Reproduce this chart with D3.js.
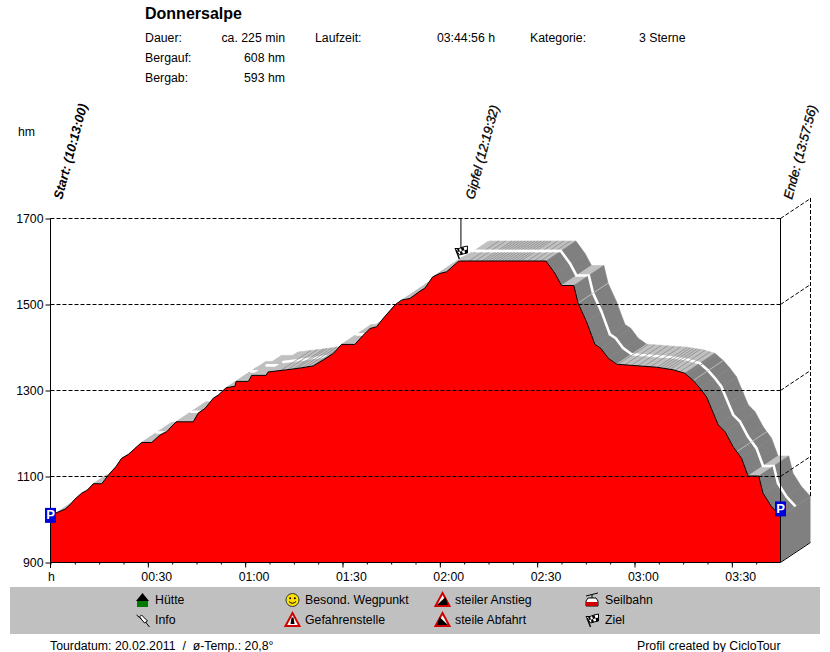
<!DOCTYPE html>
<html><head><meta charset="utf-8">
<script src="https://cdnjs.cloudflare.com/ajax/libs/d3/7.8.5/d3.min.js"></script>
<style>
html,body{margin:0;padding:0;background:#fff}
svg{display:block}
text{font-family:"Liberation Sans",Arial,sans-serif;font-size:12.3px;fill:#000}
</style></head><body>
<svg id="c" width="830" height="652"></svg>
<script>
// ---- data ----
const minutes = [0,1.7,4.5,6.0,7.5,9.6,11.2,13.2,15.8,17.8,20.2,21.9,24.0,26.0,28.1,31.2,33.7,35.8,38.7,44.0,45.5,47.6,50.2,51.7,54.1,56.9,57.2,61.0,62.0,66.4,67.1,72.8,76.9,81.0,84.1,87.2,89.7,93.8,96.2,98.5,100.5,102.6,106.2,108.2,110.8,113.9,115.4,117.8,120.0,122.1,125.7,126.5,152.7,155.5,157.5,161.3,162.6,165.2,167.8,169.6,171.9,174.5,179.6,186.8,191.9,195.5,198.1,200.2,202.2,204.3,205.8,207.9,210.4,213.0,215.0,218.3,219.6,222.2,225.0];
const elevation = [991,1014,1023,1033,1046,1060,1066,1082,1082,1102,1122,1141,1150,1164,1178,1178,1195,1203,1226,1226,1246,1257,1281,1288,1305,1309,1320,1320,1334,1334,1342,1347,1351,1356,1370,1385,1406,1406,1426,1443,1447,1467,1498,1509,1513,1530,1537,1563,1571,1575,1599,1600,1600,1571,1543,1543,1502,1459,1406,1397,1374,1360,1357,1353,1347,1339,1322,1304,1284,1246,1219,1203,1168,1141,1100,1100,1060,1029,1006];
const yTicks = [1700,1500,1300,1100,900];
const xMajorTicks = [30,60,90,120,150,180,210];
const xMajorLabels = ["00:30","01:00","01:30","02:00","02:30","03:00","03:30"];
const xMinorTicks = [0,7.5,15,22.5,30,37.5,45,52.5,60,67.5,75,82.5,90,97.5,105,112.5,120,127.5,135,142.5,150,157.5,165,172.5,180,187.5,195,202.5,210,217.5];
const darkStripes = [45,46.5,71,73,75,76,77.5,79,80.5,82,129,131,133,134,135,136,137,138,139,140,141,142,143,144,145,147,149,151,175,177,179,181,183,185,187,188,189,190,191,192.5,194,196];
const lightStripes = [162.6,198.1,211.5];
const summitMinute = 126.5, summitElevation = 1600;
const startLabel = "Start: (10:13:00)", summitLabel = "Gipfel (12:19:32)", endLabel = "Ende: (13:57:56)";
const title = "Donnersalpe";
const infoRows = [["Dauer:","ca. 225 min"],["Bergauf:","608 hm"],["Bergab:","593 hm"]];
const legendA = [["Hütte","hut"],["Info","pin"]];
const legendB = [["Besond. Wegpunkt","smile"],["Gefahrenstelle","danger"]];
const legendC = [["steiler Anstieg","up"],["steile Abfahrt","down"]];
const legendD = [["Seilbahn","cable"],["Ziel","flag"]];

// ---- scales ----
const svg = d3.select("#c");
const x = d3.scaleLinear().domain([0,225]).range([50.5,780.5]);
const y = d3.scaleLinear().domain([900,1700]).range([562,218]);
const DX = 30, DY = -20;
const profile = d3.scaleLinear().domain(minutes).range(elevation);
const pts = minutes.map((m,i)=>[x(m),y(elevation[i])]);
const LIGHT="#c0c0c0", DARK="#808080";

// ---- ribbon ----
const rib = svg.append("g");
d3.pairs(d3.range(pts.length)).forEach(([a,b])=>{
  const p=pts[a], q=pts[b];
  const rate=(elevation[b]-elevation[a])/(minutes[b]-minutes[a]);
  const c = rate < -2.5 ? DARK : LIGHT;
  rib.append("path").attr("d",`M${p}L${q}L${q[0]+DX},${q[1]+DY}L${p[0]+DX},${p[1]+DY}Z`)
    .attr("fill",c).attr("stroke",c).attr("stroke-width",0.6);
  if (rate <= 1.3 ) {
    rib.append("line").attr("x1",p[0]+DX/2).attr("y1",p[1]+DY/2).attr("x2",q[0]+DX/2).attr("y2",q[1]+DY/2)
      .attr("stroke","#fff").attr("stroke-width",2.6).attr("stroke-linecap","round");
  }
});
const stripe=(m,col,w)=>{
  const px=x(m), py=y(profile(m));
  rib.append("line").attr("x1",px).attr("y1",py).attr("x2",px+DX).attr("y2",py+DY)
    .attr("stroke",col).attr("stroke-width",w);
};
darkStripes.forEach(m=>stripe(m,"#8c8c8c",0.8));
lightStripes.forEach(m=>stripe(m,"#c8c8c8",0.8));
// re-lay summit centre line above the hatching
const sA=pts[minutes.indexOf(126.5)], sB=pts[minutes.indexOf(152.7)];
rib.append("line").attr("x1",sA[0]+DX/2).attr("y1",sA[1]+DY/2).attr("x2",sB[0]+DX/2).attr("y2",sB[1]+DY/2)
  .attr("stroke","#fff").attr("stroke-width",2.6);

// end cap
const last=pts[pts.length-1];
svg.append("path").attr("d",`M${last}L${last[0]+DX},${last[1]+DY}L${x(225)+DX},${y(900)+DY}L${x(225)},${y(900)}Z`).attr("fill",DARK);

// ---- red area ----
const area=d3.area().x((d,i)=>x(minutes[i])).y0(y(900)).y1(d=>y(d));
svg.append("path").datum(elevation).attr("d",area).attr("fill","#ff0000");
svg.append("path").datum(elevation).attr("d",d3.line().x((d,i)=>x(minutes[i])).y(d=>y(d)))
  .attr("fill","none").attr("stroke","#000").attr("stroke-width",1);

// ---- grid ----
const DASH="4,2";
yTicks.forEach(v=>{
  const yy=Math.round(y(v))+0.5;
  if(v!==900) svg.append("line").attr("x1",x(0)).attr("x2",x(225)).attr("y1",yy).attr("y2",yy)
    .attr("stroke","#000").attr("stroke-dasharray",DASH);
  const diag=svg.append("line").attr("x1",x(225)).attr("y1",yy).attr("x2",x(225)+DX).attr("y2",yy+DY).attr("stroke","#000");
  if(v!==900) diag.attr("stroke-dasharray",DASH);
});
svg.append("line").attr("x1",x(225)+DX).attr("x2",x(225)+DX).attr("y1",y(1700)+DY).attr("y2",last[1]+DY)
  .attr("stroke","#000").attr("stroke-dasharray",DASH);
svg.append("line").attr("x1",x(225)).attr("x2",x(225)).attr("y1",y(1700)).attr("y2",y(900)).attr("stroke","#000");

// ---- axes ----
const yAxis=d3.axisLeft(y).tickValues(yTicks).tickSize(5).tickFormat(d3.format("d"));
const gy=svg.append("g").attr("transform",`translate(${x(0)},0.5)`).call(yAxis);
gy.select(".domain").attr("d",`M0,${y(1700)}V${y(900)}`).attr("stroke","#000");
gy.selectAll("text").attr("x",-7).attr("dy","0.32em");

const gMinor=svg.append("g").attr("transform",`translate(0,${y(900)+0.5})`)
  .call(d3.axisBottom(x).tickValues(xMinorTicks).tickSize(2).tickFormat(""));
gMinor.select(".domain").attr("d",`M${x(0)},0H${x(225)}`).attr("stroke","#000");
const gMajor=svg.append("g").attr("transform",`translate(0,${y(900)+0.5})`)
  .call(d3.axisBottom(x).tickValues(xMajorTicks).tickSize(5).tickFormat((d,i)=>xMajorLabels[i]));
gMajor.select(".domain").remove();
gMajor.selectAll("text").attr("text-anchor","start").attr("x",-7).attr("y",0).attr("dy",18.5);
svg.selectAll(".tick text").style("font-size","12.3px").style("font-family",'"Liberation Sans"');
svg.append("line").attr("x1",x(0)).attr("x2",x(0)).attr("y1",y(900)).attr("y2",y(900)+6).attr("stroke","#000");
svg.append("text").attr("x",48).attr("y",581).text("h");
svg.append("text").attr("x",18).attr("y",136).text("hm");

// ---- summit marker ----
const sx=x(summitMinute), sy=y(summitElevation);
svg.append("line").attr("x1",sx).attr("x2",sx).attr("y1",y(1700)).attr("y2",sy-12).attr("stroke","#000");
function flag(g,cx,cy){
  const f=g.append("g").attr("transform",`translate(${cx},${cy})`);
  f.append("path").attr("d","M-6,-3.5L-2,-3.5L2,-5L6.5,-6L6.5,1L2,2L-1.5,3Z").attr("fill","#fff").attr("stroke","#000");
  f.append("path").attr("d","M-4,-3.5L-2,-3.5L-1,-0.3L-3,-0.3ZM0,-4L2.5,-5L3.5,-1.7L1,-1ZM-1,-0.3L1,-1L2,2L-0.5,2.7ZM3.5,-1.7L6.5,-2.5L6.5,1L4.2,1.3Z").attr("fill","#000");
  f.append("line").attr("x1",-5).attr("y1",-2).attr("x2",-1.5).attr("y2",7).attr("stroke","#000").attr("stroke-width",1.4);
}
flag(svg,sx,sy-9);

// P markers
[[x(0),y(elevation[0])],[x(225),last[1]]].forEach(([px,py])=>{
  svg.append("rect").attr("x",px-5.5).attr("y",py-15).attr("width",11).attr("height",15).attr("fill","#0000d8");
  svg.append("text").attr("x",px).attr("y",py-3.5).attr("text-anchor","middle")
    .style("font-weight","bold").style("font-size","13px").style("fill","#fff").text("P");
});

// rotated labels
const rot=(tx,bx,by,w,sw)=>svg.append("text").attr("transform",`translate(${bx},${by}) rotate(-75)`)
  .style("font-style","italic").style("font-weight",w).style("font-size","13px")
  .attr("stroke","#000").attr("stroke-width",sw).text(tx);
rot(startLabel,62,200,"bold",0);
rot(summitLabel,474,200,"normal",0.3);
rot(endLabel,792,200,"normal",0.3);

// ---- header ----
svg.append("text").attr("x",145).attr("y",19).style("font-size","16px").style("font-weight","bold").text(title);
infoRows.forEach((r,i)=>{
  const by=42+20*i;
  svg.append("text").attr("x",145).attr("y",by).text(r[0]);
  svg.append("text").attr("x",285).attr("y",by).attr("text-anchor","end").text(r[1]);
});
svg.append("text").attr("x",315).attr("y",42).text("Laufzeit:");
svg.append("text").attr("x",495).attr("y",42).attr("text-anchor","end").text("03:44:56 h");
svg.append("text").attr("x",530).attr("y",42).text("Kategorie:");
svg.append("text").attr("x",639).attr("y",42).text("3 Sterne");

// ---- legend ----
svg.append("rect").attr("x",10).attr("y",587).attr("width",810).attr("height",47).attr("fill","#c0c0c0");
function icon(kind,cx,cy){
  const g=svg.append("g").attr("transform",`translate(${cx},${cy})`);
  if(kind==="hut"){
    g.append("rect").attr("x",-5.5).attr("y",0).attr("width",11).attr("height",7).attr("fill","#007a00");
    g.append("path").attr("d","M-6.5,1L0,-7L6.5,1Z").attr("fill","#000");
  } else if(kind==="pin"){
    g.append("path").attr("d","M-3,-3L2,3L5,1L-1,-5Z").attr("fill","#fff").attr("stroke","#000");
    g.append("path").attr("d","M-6,-5L-1,-1M3,2L7,7").attr("fill","none").attr("stroke","#000");
  } else if(kind==="smile"){
    g.append("circle").attr("r",6.5).attr("fill","#ffe000").attr("stroke","#333");
    g.append("circle").attr("cx",-2.3).attr("cy",-1.8).attr("r",1).attr("fill","#000");
    g.append("circle").attr("cx",2.3).attr("cy",-1.8).attr("r",1).attr("fill","#000");
    g.append("path").attr("d","M-3.5,1.5Q0,5 3.5,1.5").attr("fill","none").attr("stroke","#000");
  } else if(kind==="danger"){
    g.append("path").attr("d","M0,-7L7,6H-7Z").attr("fill","#fff").attr("stroke","#d00000").attr("stroke-width",2);
    g.append("path").attr("d","M-1,-2.5H1L2,4H-2Z").attr("fill","#000");
  } else if(kind==="up"||kind==="down"){
    g.append("path").attr("d","M0,-7L7,6H-7Z").attr("fill","#fff").attr("stroke","#d00000").attr("stroke-width",2);
    g.append("path").attr("d",kind==="up"?"M-5.5,5L3,-3L5.5,5Z":"M5.5,5L-3,-3L-5.5,5Z").attr("fill","#000");
  } else if(kind==="cable"){
    g.append("path").attr("d","M-6,-4L6,-7M0,-5.5V-2").attr("stroke","#000").attr("fill","none");
    g.append("path").attr("d","M-6,1L-4,-2H4L6,1V6H-6Z").attr("fill","#fff").attr("stroke","#000");
    g.append("rect").attr("x",-6).attr("y",2).attr("width",12).attr("height",4).attr("fill","#d00000");
  } else if(kind==="flag"){ flag(g,0,0); }
}
[[legendA,142.5,155],[legendB,292.5,305],[legendC,442.5,455],[legendD,592,605]].forEach(([list,ix,tx])=>{
  list.forEach((d,i)=>{
    icon(d[1],ix,600+20*i);
    svg.append("text").attr("x",tx).attr("y",604+20*i).text(d[0]);
  });
});

// ---- footer ----
svg.append("text").attr("x",50).attr("y",650).attr("xml:space","preserve").text("Tourdatum: 20.02.2011  /  ø-Temp.: 20,8°");
svg.append("text").attr("x",637).attr("y",650).text("Profil created by CicloTour");
</script>
</body></html>
